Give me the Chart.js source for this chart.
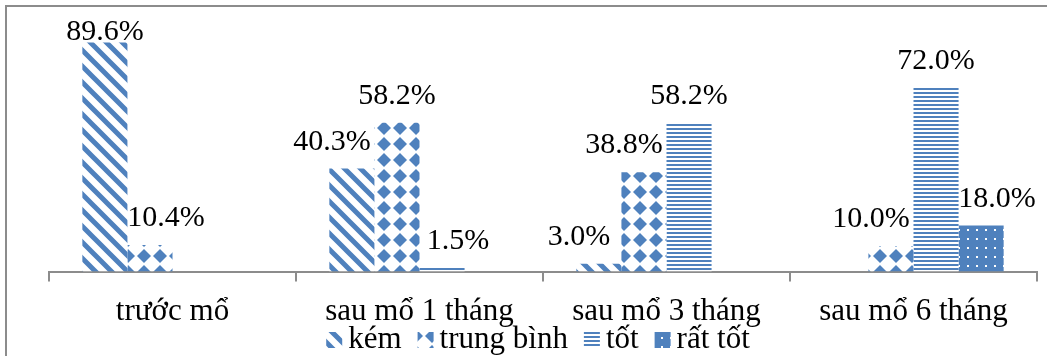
<!DOCTYPE html>
<html>
<head>
<meta charset="utf-8">
<script src="https://cdn.jsdelivr.net/npm/chart.js@4/dist/chart.umd.min.js"></script>
<style>
  html, body { margin: 0; padding: 0; background: #fff; }
  #wrap { width: 1047px; height: 356px; position: relative; }
</style>
</head>
<body>
<div id="wrap"><canvas id="chart"></canvas></div>
<script>
const categories = ['trước mổ', 'sau mổ 1 tháng', 'sau mổ 3 tháng', 'sau mổ 6 tháng'];
const seriesNames = ['kém', 'trung bình', 'tốt', 'rất tốt'];
const kem = [89.6, 40.3, 3.0, 0];
const trungBinh = [10.4, 58.2, 38.8, 10.0];
const tot = [0, 1.5, 58.2, 72.0];
const ratTot = [0, 0, 0, 18.0];

const blue = '#4f81bd';
const serif = '"Liberation Serif", "Times New Roman", serif';

// pattern tiles, drawn once on small canvases
function tile(w, h, draw) {
  const c = document.createElement('canvas');
  c.width = w; c.height = h;
  const g = c.getContext('2d');
  draw(g, w, h);
  return g.createPattern(c, 'repeat');
}

const diagPattern = tile(16, 16, (g, w, h) => {
  g.fillStyle = '#fff'; g.fillRect(0, 0, w, h);
  g.strokeStyle = blue; g.lineWidth = 5;
  g.beginPath();
  g.moveTo(-w, -h); g.lineTo(w * 2, h * 2);
  g.moveTo(-w, 0); g.lineTo(w, h * 2);
  g.moveTo(0, -h); g.lineTo(w * 2, h);
  g.stroke();
});

const diamondPattern = tile(16, 16, (g, w, h) => {
  g.fillStyle = '#fff'; g.fillRect(0, 0, w, h);
  g.fillStyle = blue;
  const r = 7;
  [[0, 0], [w, 0], [0, h], [w, h]].forEach(([cx, cy]) => {
    g.beginPath();
    g.moveTo(cx, cy - r); g.lineTo(cx + r, cy); g.lineTo(cx, cy + r); g.lineTo(cx - r, cy);
    g.closePath(); g.fill();
  });
});

const hLinePattern = tile(4, 4, (g, w, h) => {
  g.fillStyle = '#fff'; g.fillRect(0, 0, w, h);
  g.fillStyle = blue; g.fillRect(0, 0, w, 2);
});

const dotPattern = tile(9, 9, (g, w, h) => {
  g.fillStyle = blue; g.fillRect(0, 0, w, h);
  g.fillStyle = '#fff'; g.fillRect(4, 4, 2, 2);
});

const patterns = [diagPattern, diamondPattern, hLinePattern, dotPattern];
const values = [kem, trungBinh, tot, ratTot];

const frame = {
  id: 'frame',
  beforeDraw(chart) {
    const ctx = chart.ctx;
    ctx.save();
    ctx.strokeStyle = '#8c8c8c';
    ctx.lineWidth = 2;
    ctx.strokeRect(6, 6, 1200, 1000);
    ctx.restore();
  }
};

// value labels above bars; a label next to a taller bar moves away from it
const barLabels = {
  id: 'barLabels',
  afterDatasetsDraw(chart) {
    const ctx = chart.ctx;
    const metas = chart.data.datasets.map((ds, i) => chart.getDatasetMeta(i));
    ctx.save();
    ctx.font = '30px ' + serif;
    ctx.fillStyle = '#000';
    ctx.textAlign = 'center';
    ctx.textBaseline = 'alphabetic';
    chart.data.datasets.forEach((ds, i) => {
      metas[i].data.forEach((bar, j) => {
        const v = ds.data[j];
        if (!v) return;
        const left = i > 0 ? chart.data.datasets[i - 1].data[j] : 0;
        const right = i < metas.length - 1 ? chart.data.datasets[i + 1].data[j] : 0;
        let dx = 0;
        if (left > v) dx = 16;
        else if (right > v) dx = -20;
        const y = Math.max(bar.y - 19, 40);
        ctx.fillText(v.toFixed(1) + '%', bar.x + dx, y);
      });
    });
    ctx.restore();
  }
};

// legend row under the axis labels, boxes filled with the same patterns
const patternLegend = {
  id: 'patternLegend',
  afterDraw(chart) {
    const ctx = chart.ctx;
    const box = 16, gap = 6, itemGap = 16, baseline = 348;
    ctx.save();
    ctx.font = '31px ' + serif;
    const widths = chart.data.datasets.map(ds => ctx.measureText(ds.label).width);
    const total = widths.reduce((a, w) => a + box + gap + w, 0) + itemGap * (widths.length - 1);
    const area = chart.chartArea;
    let x = (area.left + area.right) / 2 - 5 - total / 2;
    chart.data.datasets.forEach((ds, i) => {
      ctx.fillStyle = ds.backgroundColor;
      ctx.fillRect(x, baseline - 16, box, box);
      x += box + gap;
      ctx.fillStyle = '#000';
      ctx.textBaseline = 'alphabetic';
      ctx.fillText(ds.label, x, baseline);
      x += widths[i] + itemGap;
    });
    ctx.restore();
  }
};

new Chart(document.getElementById('chart'), {
  type: 'bar',
  data: {
    labels: categories,
    datasets: seriesNames.map((name, i) => ({
      label: name,
      data: values[i],
      backgroundColor: patterns[i],
      borderWidth: 0,
      barPercentage: 1,
      categoryPercentage: 0.73
    }))
  },
  options: {
    responsive: true,
    maintainAspectRatio: false,
    animation: false,
    layout: { padding: { top: 16, left: 49, right: 10, bottom: 14.5 } },
    scales: {
      y: { display: false, min: 0, max: 100 },
      x: {
        border: { color: '#8c8c8c', width: 2 },
        grid: { drawOnChartArea: false, drawTicks: true, tickLength: 10, color: '#8c8c8c', lineWidth: 2 },
        ticks: { color: '#000', font: { family: serif, size: 31, lineHeight: 1 }, padding: 14.5, maxRotation: 0 }
      }
    },
    plugins: {
      legend: { display: false },
      tooltip: { enabled: false }
    }
  },
  plugins: [frame, barLabels, patternLegend]
});
</script>
</body>
</html>
